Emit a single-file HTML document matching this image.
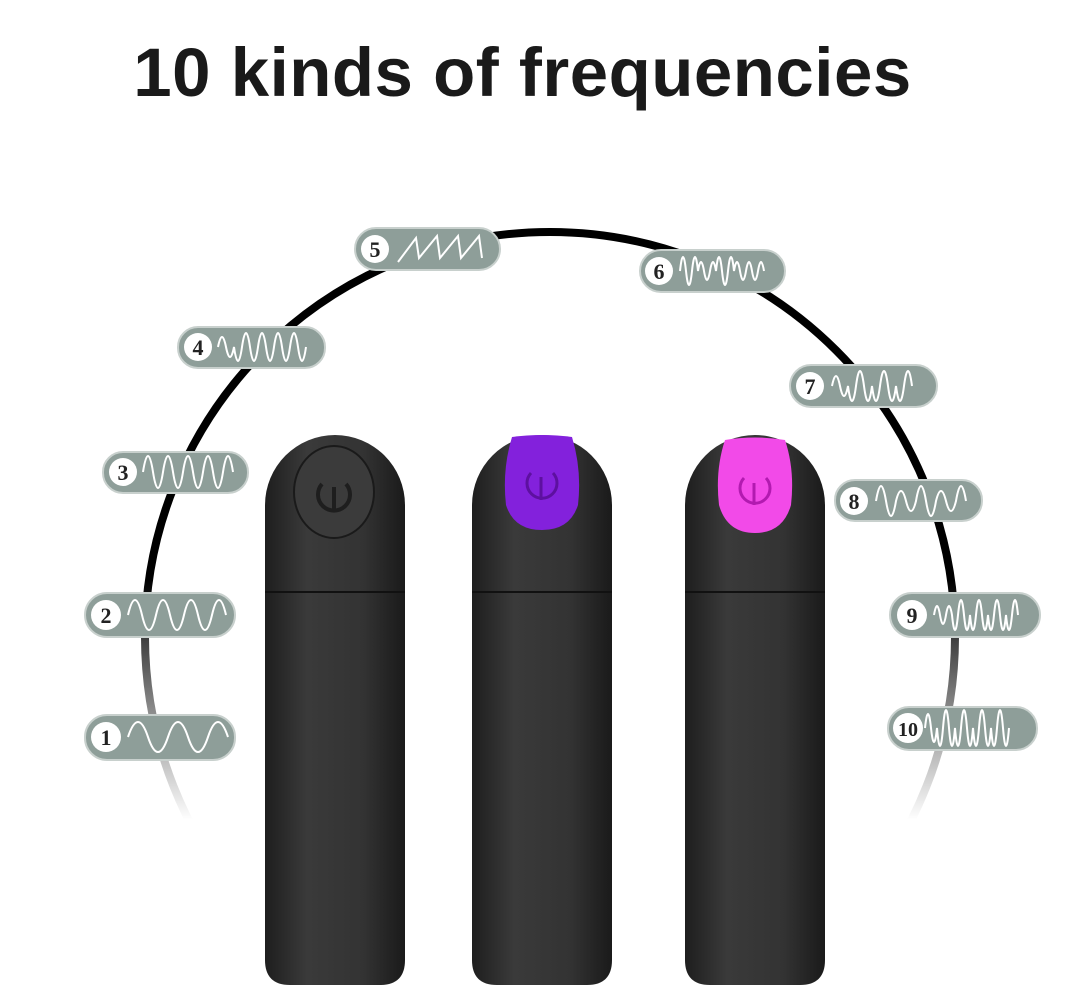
<!DOCTYPE html>
<html><head><meta charset="utf-8"><style>
html,body{margin:0;padding:0;background:#fff;}
body{width:1067px;height:994px;overflow:hidden;position:relative;font-family:"Liberation Sans",sans-serif;}
.t{position:absolute;left:0;width:1045px;top:34px;text-align:center;font-weight:bold;font-size:69px;line-height:78px;color:#1a1a1a;letter-spacing:0.5px;}
</style></head><body>
<div class="t">10 kinds of frequencies</div>
<svg width="1067" height="994" style="position:absolute;left:0;top:0">
<defs>
<linearGradient id="fade" gradientUnits="userSpaceOnUse" x1="0" y1="580" x2="0" y2="820">
<stop offset="0" stop-color="#000" stop-opacity="1"/>
<stop offset="1" stop-color="#000" stop-opacity="0"/>
</linearGradient>
<linearGradient id="body" x1="0" x2="1" y1="0" y2="0">
<stop offset="0" stop-color="#1e1e1e"/><stop offset="0.3" stop-color="#3a3a3a"/><stop offset="0.7" stop-color="#333"/><stop offset="1" stop-color="#1a1a1a"/>
</linearGradient>
</defs>
<circle cx="550" cy="637" r="405" fill="none" stroke="url(#fade)" stroke-width="8"/>
<g font-family="Liberation Serif,serif" font-weight="bold" font-size="22" fill="#222" text-anchor="middle">
<g>
<rect x="85" y="715" width="150" height="45" rx="22" fill="#8e9e99" stroke="#c8d0cd" stroke-width="2"/>
<circle cx="106" cy="737" r="15" fill="#fff"/><text x="106" y="745">1</text>
<path d="M128 737 q10 -30 20 0 t20 0 t20 0 t20 0 t20 0" fill="none" stroke="#fff" stroke-width="2"/>
</g>
<g>
<rect x="85" y="593" width="150" height="44" rx="22" fill="#8e9e99" stroke="#c8d0cd" stroke-width="2"/>
<circle cx="106" cy="615" r="15" fill="#fff"/><text x="106" y="623">2</text>
<path d="M128 615 q7 -30 14 0 t14 0 t14 0 t14 0 t14 0 t14 0 t14 0" fill="none" stroke="#fff" stroke-width="2"/>
</g>
<g>
<rect x="103" y="452" width="145" height="41" rx="20" fill="#8e9e99" stroke="#c8d0cd" stroke-width="2"/>
<circle cx="123" cy="472" r="14" fill="#fff"/><text x="123" y="480">3</text>
<path d="M143 472 q5 -32 10 0 t10 0 t10 0 t10 0 t10 0 t10 0 t10 0 t10 0 t10 0" fill="none" stroke="#fff" stroke-width="2"/>
</g>
<g>
<rect x="178" y="327" width="147" height="41" rx="20" fill="#8e9e99" stroke="#c8d0cd" stroke-width="2"/>
<circle cx="198" cy="347" r="14" fill="#fff"/><text x="198" y="355">4</text>
<path d="M218 347 q4 -20 8 0 t8 0 q4 28 8 0 t8 0 t8 0 t8 0 q4 28 8 0 t8 0 t8 0 t8 0 q4 28 8 0" fill="none" stroke="#fff" stroke-width="2"/>
</g>
<g>
<rect x="355" y="228" width="145" height="42" rx="21" fill="#8e9e99" stroke="#c8d0cd" stroke-width="2"/>
<circle cx="375" cy="249" r="14" fill="#fff"/><text x="375" y="257">5</text>
<path d="M398 262 l18 -24 l3 20 l18 -22 l3 22 l18 -22 l3 22 l18 -22 l3 22" fill="none" stroke="#fff" stroke-width="2"/>
</g>
<g>
<rect x="640" y="250" width="145" height="42" rx="21" fill="#8e9e99" stroke="#c8d0cd" stroke-width="2"/>
<circle cx="659" cy="271" r="14" fill="#fff"/><text x="659" y="279">6</text>
<path d="M680 271 q3 -28 6 0 t6 0 t6 0 q3 -18 6 0 t6 0 t6 0 q3 -28 6 0 t6 0 t6 0 q3 -18 6 0 t6 0 t6 0 t6 0 t6 0" fill="none" stroke="#fff" stroke-width="2"/>
</g>
<g>
<rect x="790" y="365" width="147" height="42" rx="21" fill="#8e9e99" stroke="#c8d0cd" stroke-width="2"/>
<circle cx="810" cy="386" r="14" fill="#fff"/><text x="810" y="394">7</text>
<path d="M832 386 q4 -20 8 0 t8 0 q4 30 8 0 t8 0 t8 0 q4 30 8 0 t8 0 t8 0 q4 30 8 0 t8 0" fill="none" stroke="#fff" stroke-width="2"/>
</g>
<g>
<rect x="835" y="480" width="147" height="41" rx="20" fill="#8e9e99" stroke="#c8d0cd" stroke-width="2"/>
<circle cx="854" cy="501" r="14" fill="#fff"/><text x="854" y="509">8</text>
<path d="M876 501 q5 -30 10 0 t10 0 q5 -20 10 0 t10 0 q5 -30 10 0 t10 0 q5 -20 10 0 t10 0 q5 -30 10 0" fill="none" stroke="#fff" stroke-width="2"/>
</g>
<g>
<rect x="890" y="593" width="150" height="44" rx="22" fill="#8e9e99" stroke="#c8d0cd" stroke-width="2"/>
<circle cx="912" cy="615" r="15" fill="#fff"/><text x="912" y="623">9</text>
<path d="M934 615 q3 -18 6 0 t6 0 t6 0 q3 30 6 0 t6 0 t6 0 q3 30 6 0 t6 0 t6 0 q3 30 6 0 t6 0 t6 0 q3 30 6 0 t6 0" fill="none" stroke="#fff" stroke-width="2"/>
</g>
<g>
<rect x="888" y="707" width="149" height="43" rx="21" fill="#8e9e99" stroke="#c8d0cd" stroke-width="2"/>
<circle cx="908" cy="728" r="15" fill="#fff"/><text x="908" y="736" font-size="20">10</text>
<path d="M925 728 q3 -28 6 0 t6 0 q3 36 6 0 t6 0 t6 0 q3 36 6 0 t6 0 t6 0 q3 36 6 0 t6 0 t6 0 q3 36 6 0 t6 0 t6 0" fill="none" stroke="#fff" stroke-width="2"/>
</g>
</g>
<g>
<path d="M265 960 L265 505 A70 70 0 0 1 405 505 L405 960 Q405 985 380 985 L290 985 Q265 985 265 960 Z" fill="url(#body)"/>
<line x1="265" y1="592" x2="405" y2="592" stroke="#111" stroke-width="2"/>
<ellipse cx="334" cy="492" rx="40" ry="46" fill="#3b3b3b" stroke="#1a1a1a" stroke-width="2"/>
<path d="M322 484 a16 16 0 1 0 24 0" fill="none" stroke="#1e1e1e" stroke-width="4"/>
<line x1="334" y1="487" x2="334" y2="512" stroke="#1e1e1e" stroke-width="4"/>
</g>
<g>
<path d="M472 960 L472 505 A70 70 0 0 1 612 505 L612 960 Q612 985 587 985 L497 985 Q472 985 472 960 Z" fill="url(#body)"/>
<line x1="472" y1="592" x2="612" y2="592" stroke="#111" stroke-width="2"/>
<path d="M512 437 Q542 433 572 437 Q582 470 578 505 Q570 530 542 530 Q514 530 506 505 Q502 470 512 437 Z" fill="#8321dc"/>
<path d="M531 473 a15 15 0 1 0 22 0" fill="none" stroke="#5d10a0" stroke-width="3"/>
<line x1="541" y1="477" x2="541" y2="500" stroke="#5d10a0" stroke-width="3"/>
</g>
<g>
<path d="M685 960 L685 505 A70 70 0 0 1 825 505 L825 960 Q825 985 800 985 L710 985 Q685 985 685 960 Z" fill="url(#body)"/>
<line x1="685" y1="592" x2="825" y2="592" stroke="#111" stroke-width="2"/>
<path d="M725 440 Q755 435 785 440 Q795 470 791 505 Q783 533 755 533 Q727 533 719 505 Q715 470 725 440 Z" fill="#f24ae8"/>
<path d="M744 478 a15 15 0 1 0 22 0" fill="none" stroke="#b21ab0" stroke-width="3"/>
<line x1="754" y1="483" x2="754" y2="505" stroke="#b21ab0" stroke-width="3"/>
</g>
</svg>
</body></html>
